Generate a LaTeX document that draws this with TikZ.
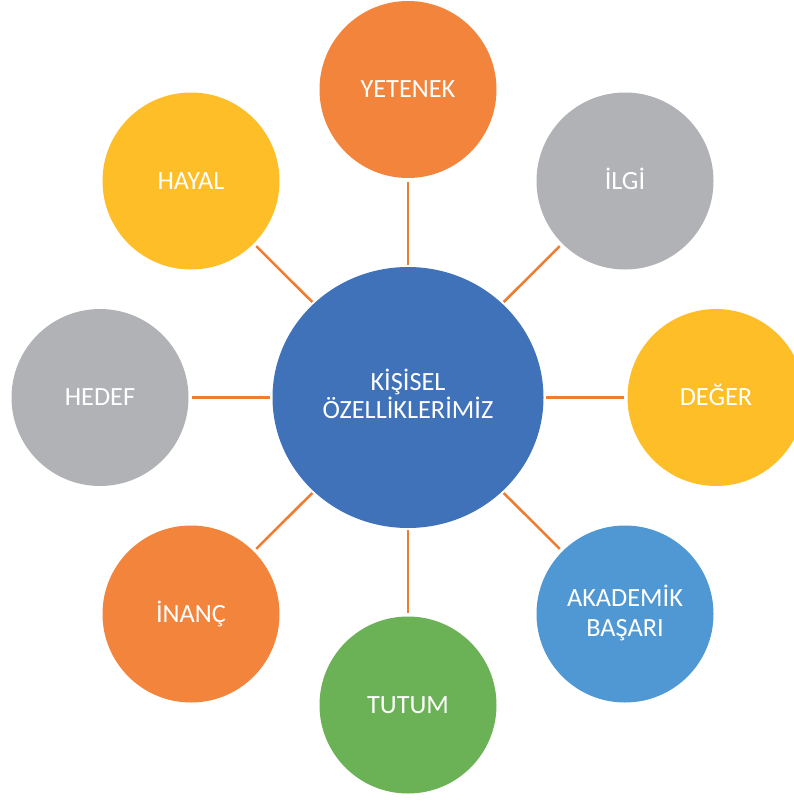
\documentclass[tikz,border=0pt]{standalone}
\usepackage{fontspec}
\setmainfont{Carlito}
\usetikzlibrary{shapes.geometric}
\definecolor{corange}{RGB}{242,132,60}
\definecolor{cgray}{RGB}{177,178,182}
\definecolor{cyellow}{RGB}{253,190,40}
\definecolor{cblue}{RGB}{64,114,185}
\definecolor{clblue}{RGB}{80,152,212}
\definecolor{cgreen}{RGB}{107,177,86}
\definecolor{cline}{RGB}{238,125,49}
\begin{document}
\begin{tikzpicture}[x=1pt,y=-1pt,
  outer/.style={circle,minimum size=177pt,inner sep=0pt,draw=none},
  hub/.style={ellipse,minimum width=271pt,minimum height=261pt,inner sep=0pt,draw=none,fill=cblue},
  lbl/.style={anchor=base,text=white,inner sep=0pt,font=\fontsize{26.3pt}{29pt}\selectfont},
  conn/.style={draw=cline,line width=2.5pt,shorten <=2pt,shorten >=3.5pt}]
\clip (0,0) rectangle (794,801);
\useasboundingbox (0,0) rectangle (794,801);
\node[hub] (c) at (408,397.5) {};
\node[outer,fill=corange] (yetenek) at (408,89.5) {};
\node[outer,fill=cgray] (ilgi) at (625,181) {};
\node[outer,fill=cyellow] (deger) at (716,397.5) {};
\node[outer,fill=clblue] (akademik) at (625,614) {};
\node[outer,fill=cgreen] (tutum) at (408,705) {};
\node[outer,fill=corange] (inanc) at (191,614) {};
\node[outer,fill=cgray] (hedef) at (100,397.5) {};
\node[outer,fill=cyellow] (hayal) at (191,181) {};
\foreach \n in {yetenek,ilgi,deger,akademik,tutum,inanc,hedef,hayal}
  \draw[conn] (c) -- (\n);
\node[lbl] (tc1) at (408,390) {KİŞİSEL};
\node[lbl] (tc2) at (408,418.5) {ÖZELLİKLERİMİZ};
\node[lbl] (tyetenek) at (408,97.9) {YETENEK};
\node[lbl] (tilgi) at (625,189.4) {İLGİ};
\node[lbl] (tdeger) at (716,405.9) {DEĞER};
\node[lbl] (tak1) at (625,606.7) {AKADEMİK};
\node[lbl] (tak2) at (625,636.5) {BAŞARI};
\node[lbl] (ttutum) at (408,713.4) {TUTUM};
\node[lbl] (tinanc) at (191,622.4) {İNANÇ};
\node[lbl] (thedef) at (100,405.9) {HEDEF};
\node[lbl] (thayal) at (191,189.4) {HAYAL};
\end{tikzpicture}
\end{document}
